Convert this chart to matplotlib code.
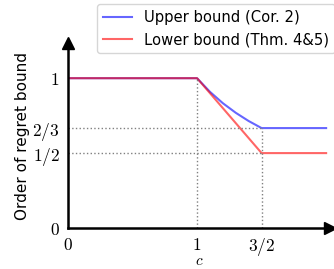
import matplotlib
matplotlib.use("Agg")
import matplotlib.pyplot as plt

plt.rcParams['mathtext.fontset'] = 'cm'

# Data
upper_c = [0, 1.0, 1.1, 1.2, 1.3, 1.4, 1.5, 2.0]
upper_v = [1, 1.0, 0.909, 0.833, 0.769, 0.714, 0.667, 0.667]
lower_c = [0, 1.0, 1.5, 2.0]
lower_v = [1, 1.0, 0.5, 0.5]
xticks = [0, 1, 1.5]
xticklabels = [r'$0$', r'$1$', r'$3/2$']
yticks = [0, 0.5, 2/3, 1]
yticklabels = [r'$0$', r'$1/2$', r'$2/3$', r'$1$']

fig = plt.figure(figsize=(3.34, 2.69), dpi=100)
ax = fig.add_axes([68/334, 41/269, 262/334, 185/269])

ax.plot(upper_c, upper_v, color='blue', alpha=0.6, lw=1.5, label='Upper bound (Cor. 2)')
ax.plot(lower_c, lower_v, color='red', alpha=0.6, lw=1.5, label='Lower bound (Thm. 4&5)')

# guide lines
ax.plot([1, 1], [0, 1], ls=':', color='gray', lw=1)
ax.plot([1.5, 1.5], [0, 2/3], ls=':', color='gray', lw=1)
ax.plot([0, 1.5], [2/3, 2/3], ls=':', color='gray', lw=1)
ax.plot([0, 1.5], [0.5, 0.5], ls=':', color='gray', lw=1)

ax.set_xlim(0, 2.03)
ax.set_ylim(0, 1.235)
for s in ['top', 'right']:
    ax.spines[s].set_visible(False)
for s in ['left', 'bottom']:
    ax.spines[s].set_linewidth(1.8)
ax.plot(1, 0, '>k', ms=8, transform=ax.get_yaxis_transform(), clip_on=False)
ax.plot(0, 1, '^k', ms=8, transform=ax.get_xaxis_transform(), clip_on=False)

ax.set_xticks(xticks)
ax.set_xticklabels(xticklabels, fontsize=12.5)
ax.set_yticks(yticks)
ax.set_yticklabels(yticklabels, fontsize=12.5)
ax.tick_params(length=0, pad=6)

ax.set_xlabel(r'$c$', fontsize=11, va='bottom')
ax.xaxis.set_label_coords(0.5, -0.216)
ax.set_ylabel('Order of regret bound', fontsize=11, labelpad=2)

fig.legend(loc='upper left', bbox_to_anchor=(97/334, 1 - 4/269), fontsize=10.6,
           frameon=True, fancybox=True, framealpha=0.8, edgecolor='#cccccc',
           borderaxespad=0, handlelength=2.0)

fig.savefig('out.png', dpi=100)
